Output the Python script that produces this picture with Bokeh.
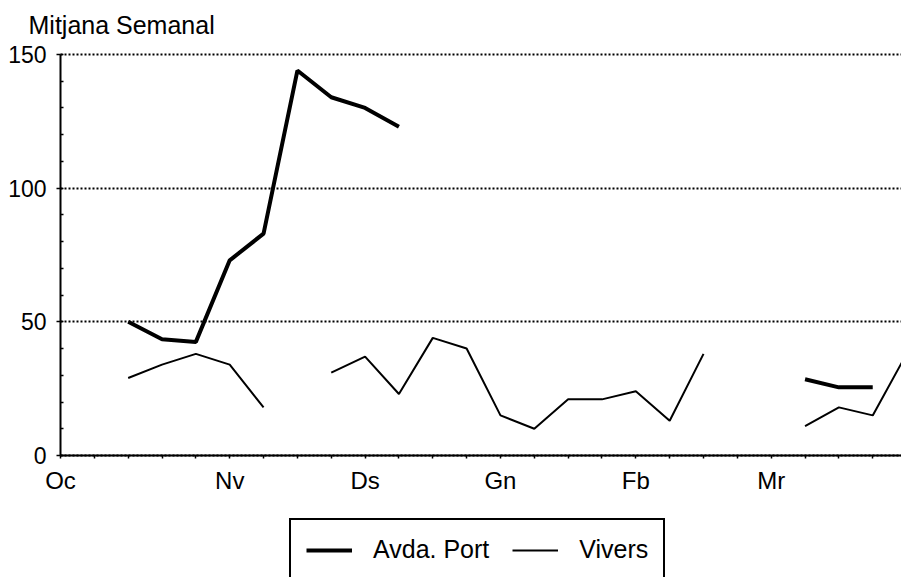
import math
from bokeh.plotting import figure
from bokeh.models import (FixedTicker, Legend, LegendItem, Range1d, Label)
from bokeh.embed import file_html
from bokeh.resources import INLINE

nan = float("nan")

# weekly index (week 0 = start of October)
weeks = list(range(26))
avda_port = [nan, nan, 50, 43.5, 42.5, 73, 83, 144, 134, 130, 123,
             nan, nan, nan, nan, nan, nan, nan, nan, nan, nan, nan,
             28.5, 25.5, 25.5, nan]
vivers = [nan, nan, 29, 34, 38, 34, 18, nan, 31, 37, 23, 44, 40, 15, 10,
          21, 21, 24, 13, 38, nan, nan, 11, 18, 15, 38]

month_labels = ["Oc", "Nv", "Ds", "Gn", "Fb", "Mr"]
month_weeks = [0, 5, 9, 13, 17, 21]
tick_weeks = list(range(25))
y_major = [0, 50, 100, 150]
y_minor = list(range(0, 151, 10))

FONT = "Liberation Sans"

# layout of the plotting area inside the 901x577 canvas
W, H = 901, 577
AX_LEFT, AX_TOP, AX_BOTTOM = 60, 54, 455
X_END = 24.85
px_week = (W - AX_LEFT) / X_END
px_unit = (AX_BOTTOM - AX_TOP) / 150.0

p = figure(width=W, height=H, output_backend="svg", toolbar_location=None,
           title_location=None,
           x_range=Range1d(-AX_LEFT / px_week, X_END),
           y_range=Range1d(-(H - AX_BOTTOM) / px_unit, 150 + AX_TOP / px_unit),
           min_border_left=0, min_border_right=0, min_border_top=0,
           min_border_bottom=0)
p.outline_line_color = None
p.background_fill_color = "white"
p.border_fill_color = "white"

# y axis (drawn at x = 0 inside the frame)
ya = p.yaxis[0]
ya.fixed_location = 0
ya.ticker = FixedTicker(ticks=y_major, minor_ticks=y_minor)
ya.bounds = (y_major[0], y_major[-1])
ya.axis_line_color = "black"
ya.axis_line_width = 2
ya.major_tick_in = 0
ya.major_tick_out = 4
ya.major_tick_line_width = 1.5
ya.minor_tick_in = 3
ya.minor_tick_out = 0
ya.minor_tick_line_width = 1.5
ya.major_label_text_font = FONT
ya.major_label_text_font_size = "23px"
ya.major_label_text_color = "black"
ya.major_label_standoff = 10

# x axis (drawn at y = 0 inside the frame)
xa = p.xaxis[0]
xa.fixed_location = 0
xa.ticker = FixedTicker(ticks=tick_weeks, minor_ticks=[])
xa.bounds = (0, X_END)
overrides = {w: "" for w in tick_weeks}
for w, lab in zip(month_weeks, month_labels):
    overrides[w] = lab
xa.major_label_overrides = overrides
xa.axis_line_color = "black"
xa.axis_line_width = 2
xa.major_tick_in = 0
xa.major_tick_out = 3
xa.major_tick_line_width = 1.5
xa.minor_tick_line_color = None
xa.major_label_text_font = FONT
xa.major_label_text_font_size = "24px"
xa.major_label_text_color = "black"
xa.major_label_standoff = 8

p.xgrid.visible = False
p.ygrid.grid_line_color = "black"
p.ygrid.grid_line_dash = "2 2"
p.ygrid.grid_line_width = 2
p.ygrid.cross_bounds = (0, X_END)

r1 = p.line(weeks, avda_port, line_width=4, line_color="black")
r2 = p.line(weeks, vivers, line_width=2, line_color="black")

legend = Legend(items=[LegendItem(label="Avda. Port", renderers=[r1]),
                       LegendItem(label="Vivers", renderers=[r2])],
                orientation="horizontal", location=(289, -4),
                border_line_color="black", border_line_width=2,
                border_line_alpha=1,
                padding=15, margin=0, spacing=23, glyph_width=46,
                glyph_height=24, label_height=24, label_standoff=21,
                label_text_font=FONT, label_text_font_size="25px",
                label_text_color="black",
                background_fill_color="white", background_fill_alpha=1)
p.add_layout(legend)

p.add_layout(Label(x=0, y=150, text="Mitjana Semanal", x_offset=-32,
                   y_offset=30, text_baseline="alphabetic",
                   text_font=FONT, text_font_size="25px",
                   text_color="black"))

open("out.html", "w").write(file_html(p, INLINE))
